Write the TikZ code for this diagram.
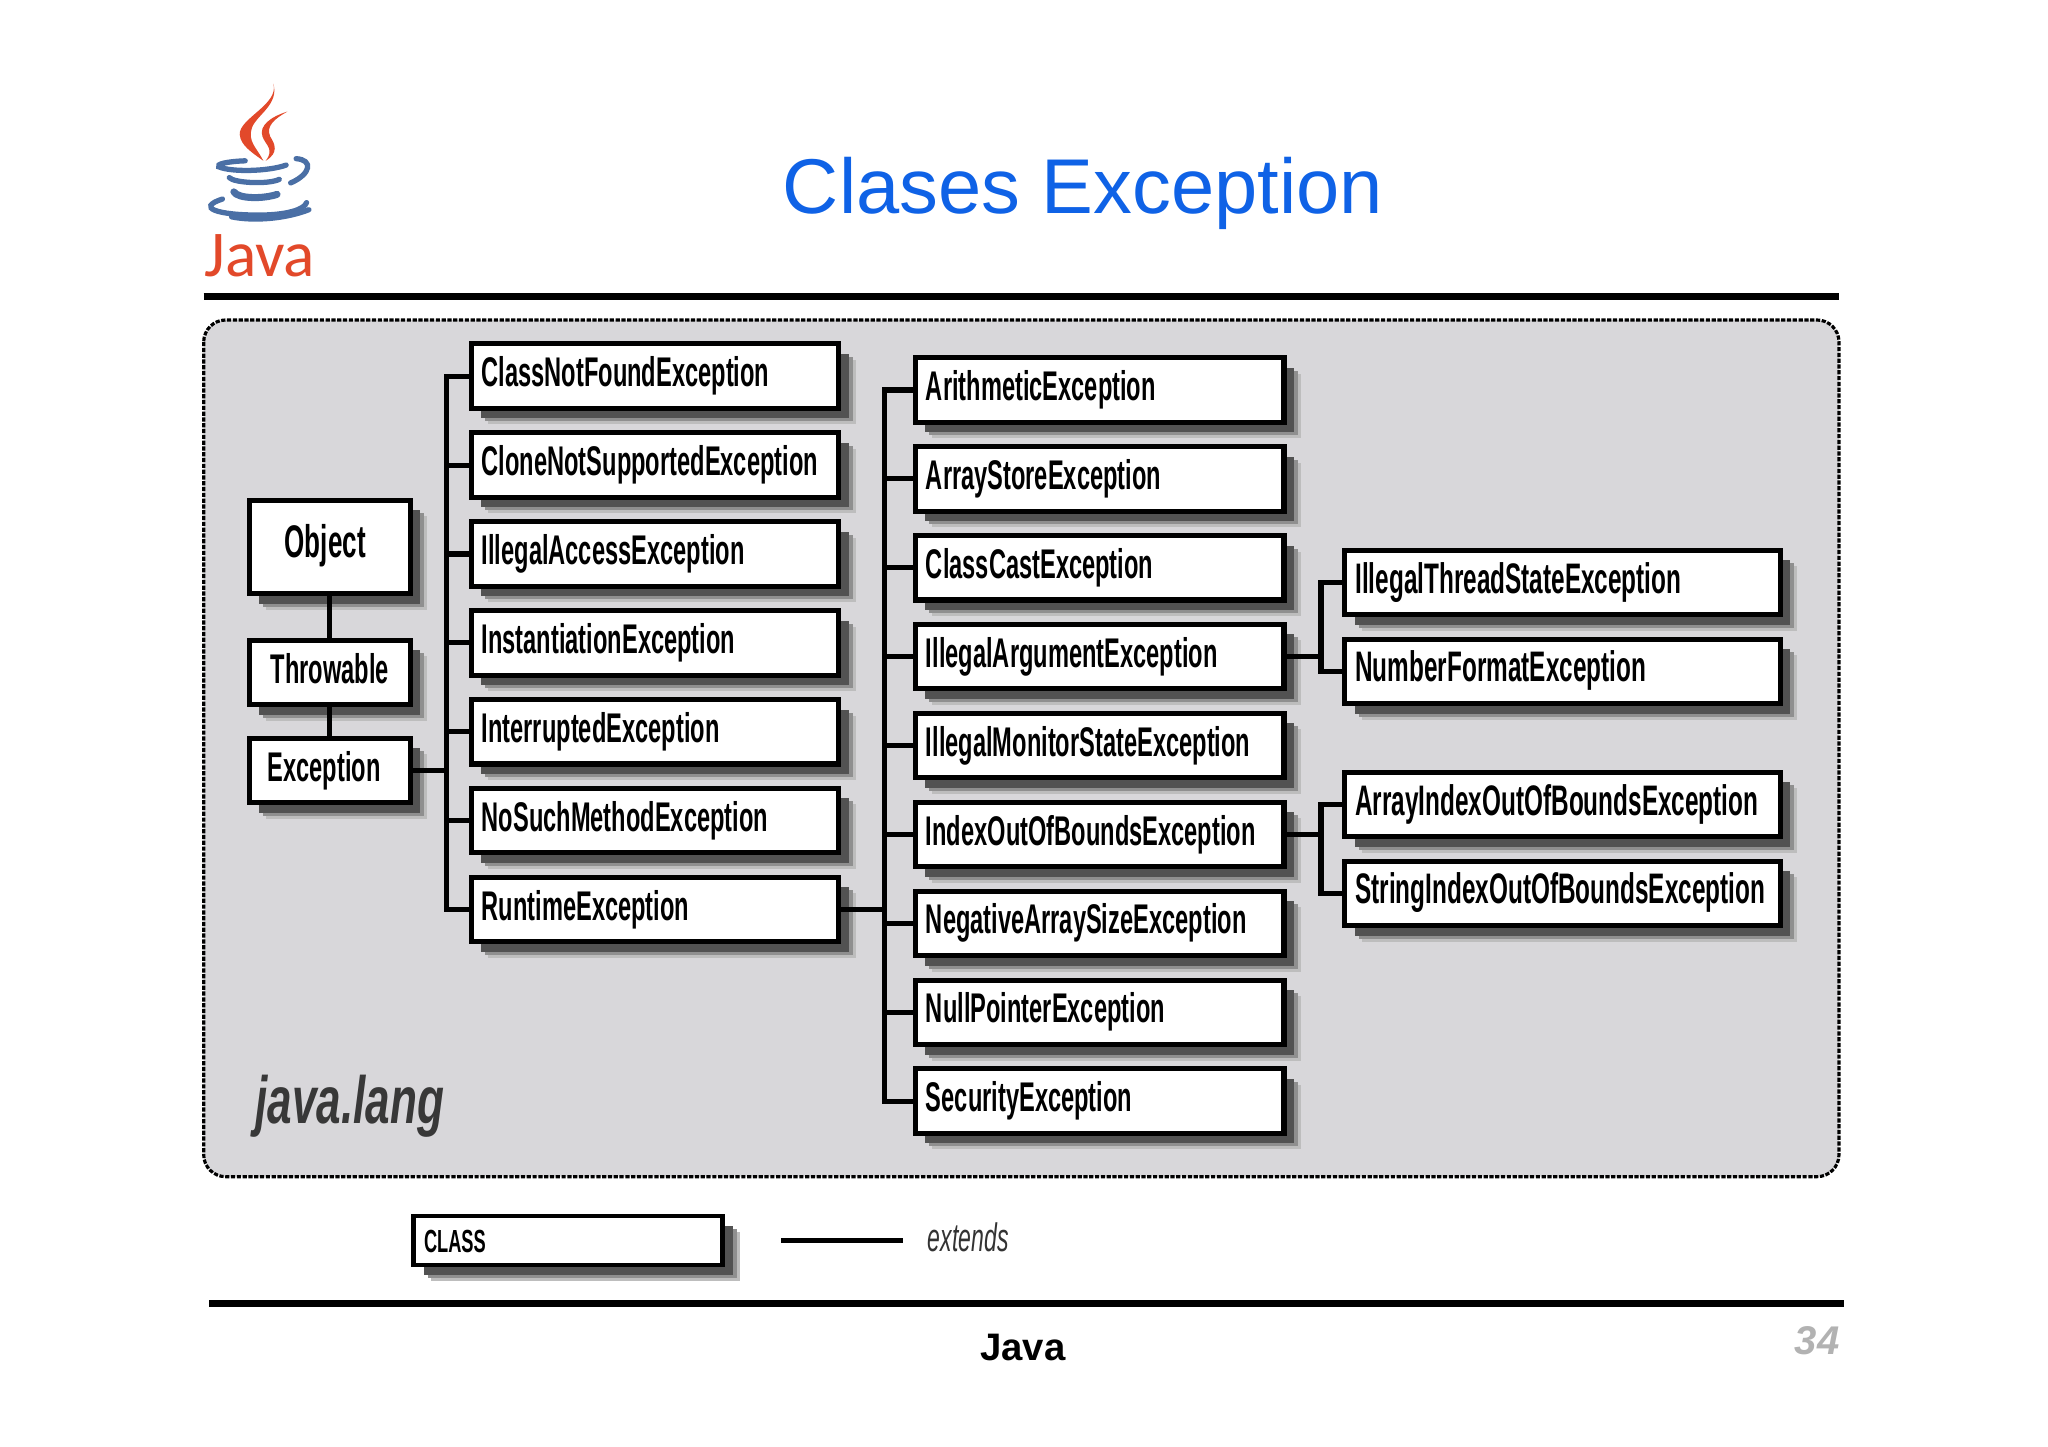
\documentclass[tikz,border=0pt]{standalone}
\usepackage{fontspec}
\setmainfont{Liberation Sans}
\newfontfamily\boxfont[FakeStretch=0.57]{Liberation Sans Bold}
\newfontfamily\slantfont[FakeStretch=0.66]{Liberation Sans Bold Italic}
\newfontfamily\thinfont[FakeStretch=0.58]{Liberation Sans Italic}
\newfontfamily\logofont{Carlito}
\usetikzlibrary{shadows}

\definecolor{panelgray}{HTML}{D8D7DA}
\definecolor{titleblue}{HTML}{0F62E6}
\definecolor{logored}{HTML}{E2492A}
\definecolor{logoblue}{HTML}{4A6FA5}

\begin{document}
\begin{tikzpicture}
    % settings can be global or per picture
    \tikzset{
      node distance=.889cm,
      softshadow/.style={
        drop shadow={shadow xshift=.17cm, shadow yshift=-.16cm, fill=black!26, opacity=1},
        drop shadow={shadow xshift=.14cm, shadow yshift=-.13cm, fill=black!44, opacity=1},
        drop shadow={shadow xshift=.10cm, shadow yshift=-.10cm, fill=black!68, opacity=1},
      },
      classbox/.style={
        draw, fill=white, line width=1.45pt, softshadow, inner xsep=.105cm, inner ysep=0pt,
        minimum height=.645cm, text height=8.5pt, text depth=2.5pt, align=left,
        font=\boxfont\fontsize{11.8}{13}\selectfont,
      },
      col1/.style={classbox, text width=1.40cm},
      col2/.style={classbox, text width=3.465cm},
      col3/.style={classbox, text width=3.475cm},
      col4/.style={classbox, text width=4.145cm, font=\boxfont\fontsize{12.15}{13}\selectfont},
      link/.style={line width=1.45pt},
      steam/.style={fill=logored, draw=none},
      cupline/.style={draw=logoblue, line width=1.5pt, line cap=round},
      rule/.style={line width=2.1pt},
    }

    \useasboundingbox (0,0) rectangle (20.48,-14.47);

    % header
    \node[text=titleblue, font=\fontsize{22.1}{26}\selectfont] (title) at (10.83,-1.93) {Clases Exception};
    \coordinate (ruleA) at (2.037,-2.965);
    \coordinate (ruleB) at (18.39,-2.965);
    \draw[rule] (ruleA) -- (ruleB);

    % logo
    \begin{scope}[shift={(1.77,-.58)}, x=.00455cm, y=-.003571cm]
      \path[steam] (212,72) .. controls (225,130) and (135,170) .. (138,215)
        .. controls (140,245) and (165,265) .. (190,288)
        .. controls (175,250) and (155,235) .. (165,195)
        .. controls (175,160) and (225,130) .. (212,72);
      \path[steam] (243,150) .. controls (205,165) and (180,190) .. (188,220)
        .. controls (195,245) and (215,255) .. (195,288)
        .. controls (225,265) and (215,240) .. (205,220)
        .. controls (195,190) and (215,170) .. (243,150);
      \draw[cupline] (150,288) .. controls (110,290) and (85,297) .. (92,305)
        .. controls (120,320) and (200,318) .. (240,300);
      \draw[cupline] (262,282) .. controls (300,285) and (295,325) .. (250,350);
      \draw[cupline] (115,335) .. controls (125,350) and (200,355) .. (225,340);
      \draw[cupline, line width=2pt] (125,375) .. controls (135,395) and (190,395) .. (220,382);
      \draw[cupline] (100,395) .. controls (40,420) and (90,440) .. (180,440)
        .. controls (240,440) and (280,425) .. (285,405);
      \draw[cupline] (120,445) .. controls (170,458) and (240,450) .. (290,425);
      \node[text=logored, font=\logofont\fontsize{18.6}{22}\selectfont] (java) at (182,555) {Java};
    \end{scope}

    % panel
    \draw[fill=panelgray, line width=.9pt, rounded corners=.22cm, dash pattern=on 1.2pt off .45pt]
      (2.037,-3.20) rectangle (18.39,-11.767);
    \node[text=black!78, font=\slantfont\fontsize{19}{22}\selectfont] (pkg) at (3.497,-11.06) {java.lang};

    % root classes
    \node[col1, minimum height=.935cm, font=\boxfont\fontsize{13}{15}\selectfont] (obj) at (3.297,-5.472) {\hspace*{.25cm}Object};
    \node[col1, align=center] (thr) at (3.297,-6.726) {Throwable};
    \node[col1] (exc) at (3.297,-7.706) {\hspace*{.08cm}Exception};

    % checked exceptions
    \node[col2] (c1) at (6.55,-3.762) {ClassNotFoundException};
    \node[col2, below of=c1] (c2) {CloneNotSupportedException};
    \node[col2, below of=c2] (c3) {IllegalAccessException};
    \node[col2, below of=c3] (c4) {InstantiationException};
    \node[col2, below of=c4] (c5) {InterruptedException};
    \node[col2, below of=c5] (c6) {NoSuchMethodException};
    \node[col2, below of=c6] (c7) {RuntimeException};

    % runtime exceptions
    \node[col3] (r1) at (10.997,-3.90) {ArithmeticException};
    \node[col3, below of=r1] (r2) {ArrayStoreException};
    \node[col3, below of=r2] (r3) {ClassCastException};
    \node[col3, below of=r3] (r4) {IllegalArgumentException};
    \node[col3, below of=r4] (r5) {IllegalMonitorStateException};
    \node[col3, below of=r5] (r6) {IndexOutOfBoundsException};
    \node[col3, below of=r6] (r7) {NegativeArraySizeException};
    \node[col3, below of=r7] (r8) {NullPointerException};
    \node[col3, below of=r8] (r9) {SecurityException};

    % subclasses
    \node[col4] (a1) at (15.626,-5.825) {IllegalThreadStateException};
    \node[col4, below of=a1] (a2) {NumberFormatException};
    \node[col4] (b1) at (15.626,-8.045) {ArrayIndexOutOfBoundsException};
    \node[col4, below of=b1] (b2) {StringIndexOutOfBoundsException};

    % buses
    \coordinate (bus1) at (4.467,-3);
    \coordinate (bus2) at (8.842,-3);
    \coordinate (bus3) at (13.21,-3);

    % extends lines
    \draw[link] (obj) -- (thr);
    \draw[link] (thr) -- (exc);
    \draw[link] (exc.east) -- (bus1 |- exc.east);
    \draw[link] (c1.west) -| (bus1 |- c7.west) -- (c7.west);
    \draw[link] (c2.west) -- (bus1 |- c2.west)
                (c3.west) -- (bus1 |- c3.west)
                (c4.west) -- (bus1 |- c4.west)
                (c5.west) -- (bus1 |- c5.west)
                (c6.west) -- (bus1 |- c6.west);
    \draw[link] (c7.east) -- (bus2 |- c7.east);
    \draw[link] (r1.west) -| (bus2 |- r9.west) -- (r9.west);
    \draw[link] (r2.west) -- (bus2 |- r2.west)
                (r3.west) -- (bus2 |- r3.west)
                (r4.west) -- (bus2 |- r4.west)
                (r5.west) -- (bus2 |- r5.west)
                (r6.west) -- (bus2 |- r6.west)
                (r7.west) -- (bus2 |- r7.west)
                (r8.west) -- (bus2 |- r8.west);
    \draw[link] (r4.east) -- (bus3 |- r4.east);
    \draw[link] (a1.west) -| (bus3 |- a2.west) -- (a2.west);
    \draw[link] (r6.east) -- (bus3 |- r6.east);
    \draw[link] (b1.west) -| (bus3 |- b2.west) -- (b2.west);

    % legend
    \node[classbox, line width=1.2pt, text width=2.88cm, minimum height=.49cm, text height=6.5pt, text depth=0pt,
      font=\boxfont\fontsize{9.1}{11}\selectfont] (key) at (5.68,-12.408) {CLASS};
    \coordinate (keyA) at (7.81,-12.408);
    \coordinate (keyB) at (9.026,-12.408);
    \draw[link] (keyA) -- (keyB);
    \node[text=black!80, font=\thinfont\fontsize{11.3}{13}\selectfont] (ext) at (9.683,-12.373) {extends};

    % footer
    \coordinate (ruleC) at (2.09,-13.034);
    \coordinate (ruleD) at (18.442,-13.034);
    \draw[rule] (ruleC) -- (ruleD);
    \node[font=\bfseries\fontsize{10.9}{13}\selectfont] (foot) at (10.23,-13.48) {Java};
    \node[text=black!30, font=\bfseries\itshape\fontsize{11.4}{13}\selectfont] (page) at (18.17,-13.41) {34};

  \end{tikzpicture}
\end{document}
